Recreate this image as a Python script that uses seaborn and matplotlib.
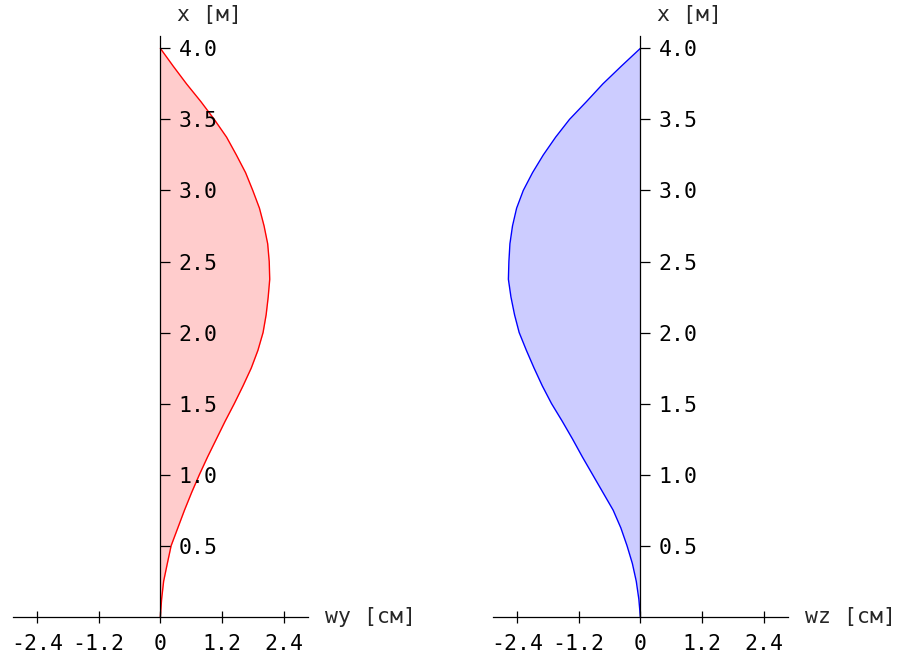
import numpy as np
import seaborn as sns
import matplotlib
matplotlib.use('Agg')
import matplotlib.pyplot as plt

# positions along the beam [m]
x_pos = [0, 0.125, 0.25, 0.375, 0.5, 0.625, 0.75, 0.875, 1.0, 1.125, 1.25, 1.375,
         1.5, 1.625, 1.75, 1.875, 2.0, 2.125, 2.25, 2.375, 2.5, 2.625, 2.75, 2.875,
         3.0, 3.125, 3.25, 3.375, 3.5, 3.625, 3.75, 3.875, 4.0]
# deflections [cm]
wy = [0, 0.025, 0.064, 0.136, 0.21, 0.34, 0.47, 0.61, 0.76, 0.92, 1.09, 1.26,
      1.44, 1.61, 1.77, 1.90, 2.0, 2.06, 2.10, 2.13, 2.12, 2.09, 2.02, 1.93,
      1.80, 1.66, 1.48, 1.29, 1.05, 0.79, 0.51, 0.25, 0]
wz = [0, -0.03, -0.08, -0.156, -0.26, -0.38, -0.53, -0.73, -0.93, -1.13, -1.32, -1.52,
      -1.73, -1.91, -2.07, -2.22, -2.36, -2.45, -2.52, -2.57, -2.56, -2.54, -2.49, -2.41,
      -2.28, -2.10, -1.89, -1.65, -1.38, -1.05, -0.73, -0.37, 0]

x_ticks = [-2.4, -1.2, 0, 1.2, 2.4]
x_ticklabels = ['-2.4', '-1.2', '0', '1.2', '2.4']
y_ticks = [0.5, 1.0, 1.5, 2.0, 2.5, 3.0, 3.5, 4.0]

sns.set_style('white')
plt.rcParams['font.family'] = ['DejaVu Sans Mono']
plt.rcParams['axes.unicode_minus'] = False

fig = plt.figure(figsize=(9.15, 6.62), dpi=100)
ax1 = fig.add_axes([0.0139, 0.0684, 0.3227, 0.8772])
ax2 = fig.add_axes([0.5385, 0.0684, 0.3227, 0.8772])

panels = [
    (ax1, wy, 'red', '#ffcccc', 'wy [см]'),
    (ax2, wz, 'blue', '#ccccff', 'wz [см]'),
]

fs = 15.5

for ax, w, line_c, fill_c, xlab in panels:
    ax.fill_betweenx(x_pos, 0, w, color=fill_c, lw=0, zorder=1)
    sns.lineplot(x=w, y=x_pos, orient='y', color=line_c, lw=1.0, ax=ax, zorder=2)

    ax.set_xlim(-2.875, 2.875)
    ax.set_ylim(0, 4.087)
    ax.set_axisbelow(False)

    # axes crossing at zero
    ax.spines['left'].set_visible(False)
    ax.spines['top'].set_visible(False)
    ax.spines['right'].set_position(('data', 0))
    ax.spines['bottom'].set_position(('data', 0))
    for s in ['right', 'bottom']:
        ax.spines[s].set_color('black')
        ax.spines[s].set_linewidth(0.9)
    ax.yaxis.set_ticks_position('right')
    ax.xaxis.set_ticks_position('bottom')

    ax.set_xticks(x_ticks)
    ax.set_xticklabels(x_ticklabels)
    ax.set_yticks(y_ticks)
    ax.set_yticklabels([f'{v:.1f}' for v in y_ticks])
    ax.tick_params(axis='x', direction='inout', length=9, width=0.9, pad=8,
                   labelsize=fs, colors='black')
    ax.tick_params(axis='y', direction='out', length=7, width=0.9, pad=6,
                   labelsize=fs, colors='black')

    ax.annotate(xlab, xy=(1, 0), xycoords=('axes fraction', 'data'),
                xytext=(12, 0), textcoords='offset points',
                ha='left', va='center', fontsize=fs)
    ax.annotate('x [м]', xy=(0, 1), xycoords=('data', 'axes fraction'),
                xytext=(12, 15), textcoords='offset points',
                ha='left', va='center', fontsize=fs)
    ax.set_xlabel('')
    ax.set_ylabel('')

fig.savefig('out.png', dpi=100)
